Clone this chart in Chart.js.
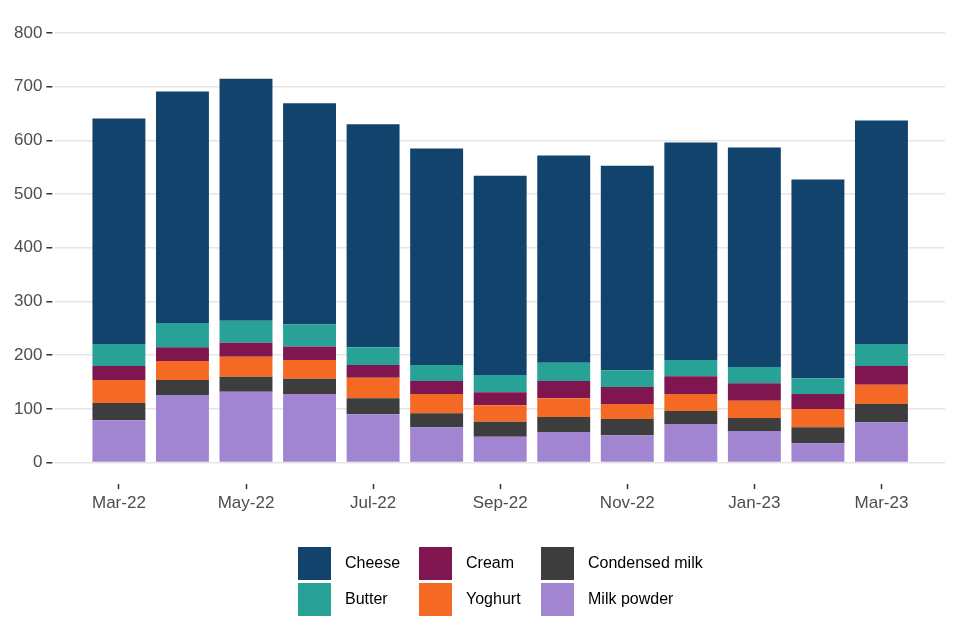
<!DOCTYPE html>
<html>
<head>
<meta charset="utf-8">
<script src="https://cdn.jsdelivr.net/npm/chart.js@4"></script>
<style>
  html, body { margin: 0; padding: 0; background: #fff; }
  #wrap { position: relative; width: 960px; height: 640px; }
  #legend {
    position: absolute; left: 298px; top: 545px;
    display: grid; grid-template-columns: 121px 122px auto; grid-auto-flow: column;
    grid-template-rows: 36px 36px;
    font-family: "Liberation Sans", Arial, sans-serif; font-size: 16px; color: #000;
  }
  .item { display: flex; align-items: center; }
  .box { width: 33px; height: 33px; margin-right: 14px; }
</style>
</head>
<body>
<div id="wrap">
  <canvas id="canvas" width="960" height="640"></canvas>
  <div id="legend"></div>
</div>
<script>
var months = ['Mar-22', 'Apr-22', 'May-22', 'Jun-22', 'Jul-22', 'Aug-22', 'Sep-22',
              'Oct-22', 'Nov-22', 'Dec-22', 'Jan-23', 'Feb-23', 'Mar-23'];

var milkPowder    = [79, 126, 132, 128, 90, 66, 48, 57, 51, 72, 59, 36, 75];
var condensedMilk = [32, 28, 28, 28, 30, 26, 28, 28, 30, 24, 24, 30, 34];
var yoghurt       = [43, 35, 37, 35, 38, 36, 31, 35, 28, 32, 32, 34, 36];
var cream         = [26, 26, 26, 25, 24, 24, 24, 32, 32, 33, 33, 28, 35];
var butter        = [41, 45, 41, 41, 33, 30, 32, 34, 31, 30, 30, 29, 41];
var cheese        = [420, 431, 451, 412, 415, 403, 371, 386, 381, 405, 409, 370, 416];

// stacking order, bottom first
var series = [
    { label: 'Milk powder', data: milkPowder, color: '#A285D1' },
    { label: 'Condensed milk', data: condensedMilk, color: '#3D3D3D' },
    { label: 'Yoghurt', data: yoghurt, color: '#F46A25' },
    { label: 'Cream', data: cream, color: '#801650' },
    { label: 'Butter', data: butter, color: '#28A197' },
    { label: 'Cheese', data: cheese, color: '#12436D' }
];
var legendOrder = ['Cheese', 'Butter', 'Cream', 'Yoghurt', 'Condensed milk', 'Milk powder'];

// one empty slot each side, like the ggplot axis expansion
var labels = [''].concat(months, ['']);
function pad(arr) { return [null].concat(arr, [null]); }

var ctx = document.getElementById('canvas').getContext('2d');
var config = {
    type: 'bar',
    data: {
        labels: labels,
        datasets: series.map(function(s) {
            return {
                label: s.label,
                data: pad(s.data),
                backgroundColor: s.color,
                borderWidth: 0,
                barPercentage: 0.833,
                categoryPercentage: 1
            };
        })
    },
    options: {
        responsive: false,
        animation: false,
        layout: { padding: { left: 10, right: 15, top: 8, bottom: 122.5 } },
        plugins: { legend: { display: false }, tooltip: { enabled: false } },
        scales: {
            x: {
                stacked: true,
                offset: false,
                border: { display: false },
                grid: { offset: false, drawOnChartArea: false, tickLength: 5, tickColor: '#333', tickWidth: 1.5 },
                afterBuildTicks: function(axis) {
                    axis.ticks = axis.ticks.filter(function(t) { return t.value % 2 === 1; });
                },
                ticks: {
                    autoSkip: false, maxRotation: 0, padding: 4, color: '#4d4d4d',
                    font: { family: '"Liberation Sans", Arial, sans-serif', size: 17 },
                    callback: function(v) { return labels[v]; }
                }
            },
            y: {
                stacked: true,
                min: -40,
                max: 835,
                border: { display: false },
                grid: {
                    color: '#e6e6e6', lineWidth: 1.5,
                    tickLength: 9, tickColor: '#333', tickWidth: 1.5, tickBorderDash: [6, 3]
                },
                afterBuildTicks: function(axis) {
                    axis.ticks = [0, 100, 200, 300, 400, 500, 600, 700, 800].map(function(v) { return { value: v }; });
                },
                ticks: {
                    padding: 4, color: '#4d4d4d',
                    font: { family: '"Liberation Sans", Arial, sans-serif', size: 17 }
                }
            }
        }
    }
};

var chart = new Chart(ctx, config);

var legend = document.getElementById('legend');
legendOrder.forEach(function(name) {
    var s = series.filter(function(x) { return x.label === name; })[0];
    var item = document.createElement('div');
    item.className = 'item';
    item.innerHTML = '<span class="box" style="background:' + s.color + '"></span><span>' + s.label + '</span>';
    legend.appendChild(item);
});
</script>
</body>
</html>
